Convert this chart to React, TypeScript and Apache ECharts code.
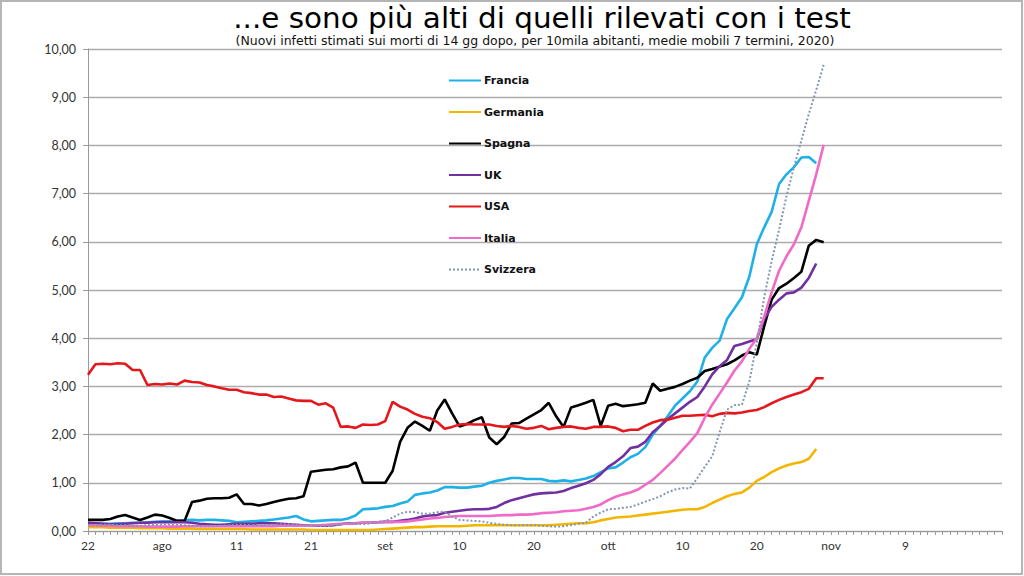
import React, { useEffect, useRef } from "react";
import * as echarts from "echarts";

const TITLE = "...e sono più alti di quelli rilevati con i test";
const SUBTITLE = "(Nuovi infetti stimati sui morti di 14 gg dopo, per 10mila abitanti, medie mobili 7 termini, 2020)";

// x axis: daily categories from 22 July 2020, labels every 10 days
const START_DATE = "2020-07-22";
const N_DAYS = 124;
const tickLabels = ["22", "ago", "11", "21", "set", "10", "20", "ott", "10", "20", "nov", "9"];

const yTicks = [0, 1, 2, 3, 4, 5, 6, 7, 8, 9, 10];

const francia = [
  0.16, 0.16, 0.15, 0.15, 0.16, 0.16, 0.17, 0.17, 0.18, 0.19,
  0.20, 0.20, 0.21, 0.22, 0.23, 0.22, 0.23, 0.23, 0.22, 0.21,
  0.18, 0.19, 0.20, 0.21, 0.22, 0.24, 0.26, 0.28, 0.31, 0.24,
  0.20, 0.21, 0.22, 0.23, 0.23, 0.26, 0.32, 0.45, 0.46, 0.47,
  0.50, 0.52, 0.57, 0.61, 0.75, 0.78, 0.80, 0.84, 0.91, 0.91,
  0.90, 0.90, 0.92, 0.94, 1.00, 1.04, 1.07, 1.10, 1.10, 1.08,
  1.08, 1.08, 1.04, 1.03, 1.05, 1.03, 1.06, 1.09, 1.14, 1.22,
  1.30, 1.32, 1.42, 1.53, 1.60, 1.74, 2.00, 2.18, 2.38, 2.60,
  2.75, 2.90, 3.10, 3.60, 3.80, 3.95, 4.40, 4.62, 4.85, 5.28,
  5.95, 6.30, 6.62, 7.20, 7.40, 7.55, 7.75, 7.76, 7.63, null,
];

const germania = [
  0.08, 0.08, 0.08, 0.07, 0.07, 0.07, 0.07, 0.06, 0.06, 0.06,
  0.06, 0.05, 0.05, 0.05, 0.05, 0.04, 0.04, 0.04, 0.04, 0.04,
  0.04, 0.04, 0.03, 0.03, 0.03, 0.03, 0.03, 0.03, 0.03, 0.03,
  0.02, 0.02, 0.02, 0.02, 0.02, 0.02, 0.02, 0.02, 0.02, 0.03,
  0.04, 0.05, 0.06, 0.07, 0.08, 0.08, 0.09, 0.10, 0.10, 0.10,
  0.10, 0.11, 0.12, 0.12, 0.12, 0.12, 0.12, 0.12, 0.12, 0.12,
  0.12, 0.12, 0.12, 0.13, 0.14, 0.15, 0.16, 0.16, 0.18, 0.22,
  0.25, 0.28, 0.29, 0.30, 0.32, 0.34, 0.36, 0.38, 0.40, 0.42,
  0.44, 0.45, 0.45, 0.50, 0.58, 0.65, 0.72, 0.77, 0.80, 0.90,
  1.04, 1.12, 1.22, 1.30, 1.36, 1.40, 1.43, 1.50, 1.70, null,
];

const spagna = [
  0.23, 0.23, 0.23, 0.25, 0.30, 0.33, 0.28, 0.23, 0.28, 0.34,
  0.32, 0.27, 0.21, 0.21, 0.60, 0.63, 0.67, 0.68, 0.68, 0.69,
  0.76, 0.56, 0.56, 0.53, 0.56, 0.60, 0.64, 0.67, 0.68, 0.72,
  1.23, 1.25, 1.27, 1.28, 1.32, 1.34, 1.42, 1.00, 1.00, 1.00,
  1.00, 1.25, 1.85, 2.14, 2.27, 2.18, 2.08, 2.50, 2.73, 2.44,
  2.17, 2.22, 2.30, 2.36, 1.94, 1.80, 1.95, 2.23, 2.24, 2.33,
  2.42, 2.51, 2.66, 2.38, 2.16, 2.56, 2.61, 2.66, 2.72, 2.18,
  2.60, 2.64, 2.59, 2.61, 2.63, 2.66, 3.06, 2.91, 2.95, 2.99,
  3.05, 3.12, 3.18, 3.32, 3.36, 3.41, 3.46, 3.54, 3.64, 3.71,
  3.66, 4.25, 4.80, 5.04, 5.13, 5.25, 5.38, 5.92, 6.04, 5.99,
];

const uk = [
  0.17, 0.16, 0.15, 0.14, 0.14, 0.15, 0.16, 0.17, 0.17, 0.18,
  0.18, 0.18, 0.18, 0.18, 0.17, 0.15, 0.14, 0.13, 0.13, 0.14,
  0.15, 0.15, 0.15, 0.16, 0.16, 0.16, 0.15, 0.14, 0.13, 0.12,
  0.12, 0.11, 0.11, 0.12, 0.14, 0.16, 0.16, 0.17, 0.17, 0.18,
  0.19, 0.19, 0.21, 0.23, 0.26, 0.30, 0.32, 0.33, 0.38, 0.40,
  0.42, 0.44, 0.45, 0.45, 0.46, 0.50, 0.58, 0.64, 0.68, 0.72,
  0.76, 0.78, 0.79, 0.80, 0.83, 0.89, 0.94, 0.99, 1.06, 1.18,
  1.33, 1.43, 1.55, 1.72, 1.75, 1.85, 2.05, 2.18, 2.32, 2.44,
  2.56, 2.68, 2.78, 3.00, 3.25, 3.42, 3.55, 3.84, 3.88, 3.93,
  3.98, 4.40, 4.65, 4.80, 4.93, 4.95, 5.05, 5.25, 5.55, null,
];

const usa = [
  3.24, 3.46, 3.47, 3.46, 3.48, 3.47, 3.34, 3.34, 3.03, 3.05,
  3.04, 3.06, 3.04, 3.12, 3.09, 3.08, 3.03, 3.00, 2.96, 2.93,
  2.93, 2.88, 2.86, 2.83, 2.83, 2.78, 2.79, 2.75, 2.71, 2.70,
  2.70, 2.62, 2.65, 2.56, 2.16, 2.17, 2.14, 2.21, 2.20, 2.21,
  2.28, 2.68, 2.58, 2.52, 2.43, 2.37, 2.34, 2.26, 2.12, 2.16,
  2.21, 2.22, 2.21, 2.21, 2.21, 2.18, 2.16, 2.18, 2.16, 2.12,
  2.14, 2.18, 2.11, 2.14, 2.16, 2.17, 2.14, 2.12, 2.16, 2.16,
  2.17, 2.14, 2.07, 2.10, 2.10, 2.18, 2.25, 2.30, 2.31, 2.35,
  2.39, 2.39, 2.40, 2.41, 2.38, 2.43, 2.45, 2.44, 2.46, 2.49,
  2.51, 2.57, 2.65, 2.72, 2.78, 2.83, 2.88, 2.95, 3.17, 3.17,
];

const italia = [
  0.12, 0.12, 0.11, 0.11, 0.10, 0.10, 0.10, 0.10, 0.09, 0.09,
  0.09, 0.09, 0.09, 0.10, 0.10, 0.10, 0.10, 0.10, 0.10, 0.10,
  0.10, 0.10, 0.10, 0.10, 0.10, 0.10, 0.11, 0.11, 0.11, 0.11,
  0.12, 0.12, 0.13, 0.14, 0.15, 0.15, 0.16, 0.17, 0.17, 0.18,
  0.19, 0.19, 0.19, 0.20, 0.22, 0.24, 0.26, 0.27, 0.29, 0.30,
  0.31, 0.31, 0.31, 0.31, 0.31, 0.32, 0.33, 0.33, 0.34, 0.34,
  0.35, 0.37, 0.38, 0.39, 0.41, 0.42, 0.43, 0.46, 0.50, 0.55,
  0.64, 0.71, 0.76, 0.80, 0.86, 0.96, 1.06, 1.20, 1.35, 1.50,
  1.68, 1.85, 2.03, 2.35, 2.62, 2.85, 3.08, 3.33, 3.52, 3.78,
  4.00, 4.45, 4.95, 5.40, 5.70, 5.95, 6.30, 6.85, 7.40, 8.01,
];

const svizzera = [
  0.12, 0.12, 0.13, 0.13, 0.12, 0.12, 0.11, 0.11, 0.12, 0.13,
  0.14, 0.14, 0.13, 0.12, 0.11, 0.10, 0.10, 0.10, 0.11, 0.12,
  0.13, 0.13, 0.12, 0.12, 0.12, 0.13, 0.14, 0.14, 0.13, 0.12,
  0.12, 0.11, 0.10, 0.11, 0.14, 0.17, 0.16, 0.14, 0.16, 0.19,
  0.20, 0.28, 0.36, 0.40, 0.39, 0.36, 0.36, 0.39, 0.40, 0.30,
  0.23, 0.22, 0.21, 0.20, 0.17, 0.15, 0.13, 0.12, 0.12, 0.12,
  0.12, 0.11, 0.10, 0.09, 0.10, 0.12, 0.15, 0.17, 0.30, 0.38,
  0.45, 0.46, 0.48, 0.50, 0.55, 0.61, 0.66, 0.72, 0.80, 0.86,
  0.89, 0.88, 1.10, 1.33, 1.55, 2.05, 2.52, 2.61, 2.62, 3.10,
  3.90, 4.85, 5.60, 6.25, 6.95, 7.55, 8.10, 8.65, 9.15, 9.67,
];

const seriesDefs = [
  { name: "Francia", data: francia, color: "#1FB1E6", width: 2.6, type: "solid" },
  { name: "Germania", data: germania, color: "#F2B600", width: 2.6, type: "solid" },
  { name: "Spagna", data: spagna, color: "#000000", width: 2.6, type: "solid" },
  { name: "UK", data: uk, color: "#7030A0", width: 2.6, type: "solid" },
  { name: "USA", data: usa, color: "#E3171C", width: 2.6, type: "solid" },
  { name: "Italia", data: italia, color: "#F06AC8", width: 2.6, type: "solid" },
  { name: "Svizzera", data: svizzera, color: "#8497B0", width: 2, type: "dotted" },
];

function buildCategories(): string[] {
  const out: string[] = [];
  const d0 = new Date(START_DATE + "T12:00:00Z");
  for (let i = 0; i < N_DAYS; i++) {
    const d = new Date(d0.getTime() + i * 86400000);
    out.push(d.toISOString().slice(0, 10));
  }
  return out;
}

export default function App() {
  const ref = useRef<HTMLDivElement>(null);

  useEffect(() => {
    if (!ref.current) return;
    const chart = echarts.init(ref.current, null, { renderer: "svg" });
    const categories = buildCategories();
    const labelFont = "Lato, 'Noto Sans', sans-serif";
    const titleFont = "'DejaVu Sans', sans-serif";

    chart.setOption({
      animation: false,
      backgroundColor: "#ffffff",
      legend: {
        orient: "vertical",
        left: 443,
        top: 67,
        itemWidth: 32,
        itemHeight: 14,
        itemGap: 14.5,
        itemStyle: { opacity: 0 },
        textStyle: {
          fontFamily: "'DejaVu Sans', sans-serif",
          fontWeight: "bold",
          fontSize: 11,
          color: "#111111",
          padding: [0, 0, 0, -2],
          height: 17,
          lineHeight: 17,
        },
        data: seriesDefs.map((s) => s.name),
      },
      grid: { left: 88, right: 22, top: 49, bottom: 45, containLabel: false },
      xAxis: {
        type: "category",
        data: categories,
        boundaryGap: false,
        axisLine: { show: true, lineStyle: { color: "#9a9a9a", width: 1 } },
        axisTick: { show: true, interval: 0, length: 4, lineStyle: { color: "#9a9a9a" } },
        axisLabel: {
          interval: (idx: number) => idx % 10 === 0,
          formatter: (_v: string, idx: number) => tickLabels[Math.round(idx / 10)] ?? "",
          fontFamily: labelFont,
          fontSize: 12,
          color: "#333333",
          margin: 8,
        },
        splitLine: { show: false },
      },
      yAxis: {
        type: "value",
        min: yTicks[0],
        max: yTicks[yTicks.length - 1],
        interval: 1,
        axisLine: { show: true, lineStyle: { color: "#9a9a9a", width: 1 } },
        axisTick: { show: true, length: 5, lineStyle: { color: "#9a9a9a" } },
        axisLabel: {
          formatter: (v: number) => v.toFixed(2).replace(".", ","),
          fontFamily: labelFont,
          fontSize: 12.5,
          color: "#333333",
          margin: 12,
        },
        splitLine: { show: true, lineStyle: { color: "#ababab", width: 1.3 } },
      },
      graphic: [
        {
          type: "rect",
          shape: { x: 1, y: 1, width: 1021, height: 573 },
          style: { fill: "none", stroke: "#b5b5b5", lineWidth: 2 },
          silent: true,
        },
        {
          type: "text",
          x: 542,
          y: 18.5,
          scaleX: 1.07,
          silent: true,
          style: {
            text: TITLE,
            font: `normal 27.5px ${titleFont}`,
            fill: "#000000",
            textAlign: "center",
            textVerticalAlign: "middle",
          },
        },
        {
          type: "text",
          x: 535,
          y: 41.5,
          scaleX: 1.06,
          silent: true,
          style: {
            text: SUBTITLE,
            font: `normal 11.8px ${titleFont}`,
            fill: "#111111",
            textAlign: "center",
            textVerticalAlign: "middle",
          },
        },
      ],
      series: seriesDefs.map((s) => ({
        name: s.name,
        type: "line",
        data: s.data,
        symbol: "none",
        showSymbol: false,
        smooth: false,
        connectNulls: false,
        lineStyle: { color: s.color, width: s.width, type: s.type },
        itemStyle: { color: s.color },
        emphasis: { disabled: true },
      })),
    });

    return () => chart.dispose();
  }, []);

  return (
    <div
      ref={ref}
      style={{ position: "fixed", left: 0, top: 0, width: 1024, height: 576, background: "#fff" }}
    />
  );
}
